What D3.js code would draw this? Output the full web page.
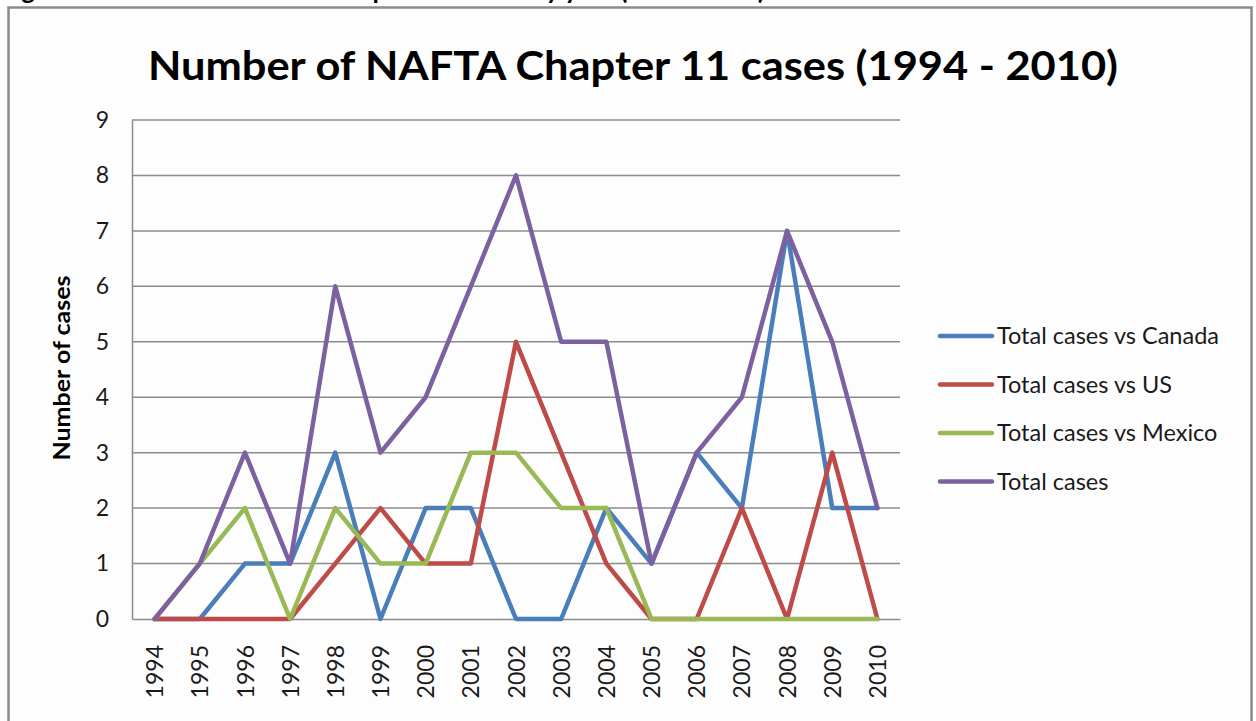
<!DOCTYPE html>
<html>
<head>
<meta charset="utf-8">
<script src="https://cdn.jsdelivr.net/npm/d3@7"></script>
<style>
  body { margin: 0; background: #ffffff; }
  svg { display: block; }
  .tickText { font-family: Lato, "Open Sans", sans-serif; fill: #1a1a1a; }
</style>
</head>
<body>
<svg id="chart" width="1256" height="721"></svg>
<script>
// Data
const years = ["1994","1995","1996","1997","1998","1999","2000","2001","2002","2003","2004","2005","2006","2007","2008","2009","2010"];
const canada = [0,0,1,1,3,0,2,2,0,0,2,1,3,2,7,2,2];
const us     = [0,0,0,0,1,2,1,1,5,3,1,0,0,2,0,3,0];
const mexico = [0,1,2,0,2,1,1,3,3,2,2,0,0,0,0,0,0];
const total  = [0,1,3,1,6,3,4,6,8,5,5,1,3,4,7,5,2];
const seriesNames = ["Total cases vs Canada","Total cases vs US","Total cases vs Mexico","Total cases"];
const seriesColors = ["#4a7ebb","#be4b48","#98b954","#7d60a0"];
const yTicks = [0,1,2,3,4,5,6,7,8,9];

const FONT = "Lato, 'Open Sans', sans-serif";
const PLOT_LEFT = 132, PLOT_RIGHT = 900, PLOT_TOP = 120, PLOT_BOTTOM = 619;

const svg = d3.select('#chart');

// caption from the page above, the crop only leaves its descenders
svg.append('text')
  .attr('x', 0).attr('y', -1)
  .attr('font-family', FONT).attr('font-weight', 'bold').attr('font-size', '26px')
  .attr('fill', '#000')
  .text('Figure 1: Number of NAFTA Chapter 11 cases by year (1994-2010)');

// chart frame
svg.append('rect')
  .attr('x', 8.5).attr('y', 7.5)
  .attr('width', 1243).attr('height', 730)
  .attr('fill', '#fdfdfd')
  .attr('stroke', '#8a8a8a').attr('stroke-width', 2.5);

// title
svg.append('text')
  .attr('x', 633).attr('y', 80)
  .attr('text-anchor', 'middle')
  .attr('font-family', FONT).attr('font-weight', 'bold').attr('font-size', '41px')
  .attr('fill', '#000')
  .attr('textLength', 970).attr('lengthAdjust', 'spacingAndGlyphs')
  .text('Number of NAFTA Chapter 11 cases (1994 - 2010)');

// scales
const xScale = d3.scalePoint().domain(years).range([PLOT_LEFT, PLOT_RIGHT]).padding(0.5);
const yScale = d3.scaleLinear().domain([0, 9]).range([PLOT_BOTTOM, PLOT_TOP]);

// gridlines
svg.append('g')
  .selectAll('line')
  .data(yTicks.filter(d => d > 0))
  .join('line')
  .attr('x1', PLOT_LEFT).attr('x2', PLOT_RIGHT)
  .attr('y1', d => yScale(d)).attr('y2', d => yScale(d))
  .attr('stroke', '#8c8c8c').attr('stroke-width', 1.5);

// y axis
let yAxis = d3.axisLeft(yScale).tickValues(yTicks).tickSize(0).tickPadding(23);
let yG = svg.append('g')
  .attr('transform', `translate(${PLOT_LEFT},0)`)
  .call(yAxis);
yG.select('.domain').attr('stroke', '#8c8c8c').attr('stroke-width', 1.5);
yG.selectAll('text')
  .attr('class', 'tickText')
  .style('font-size', '23px');

// x axis
let xAxis = d3.axisBottom(xScale).tickSize(0).tickSizeOuter(0);
let xG = svg.append('g')
  .attr('transform', `translate(0,${PLOT_BOTTOM})`)
  .call(xAxis);
xG.select('.domain').attr('stroke', '#8c8c8c').attr('stroke-width', 1.5);
xG.selectAll('text')
  .attr('class', 'tickText')
  .style('font-size', '23px')
  .style('text-anchor', 'end')
  .attr('dy', '0.35em')
  .attr('transform', 'translate(0,26) rotate(-90)')
  .attr('x', 0).attr('y', 0);

// y axis label
svg.append('text')
  .attr('transform', 'translate(62,368) rotate(-90)')
  .attr('text-anchor', 'middle')
  .attr('dy', '0.35em')
  .attr('font-family', FONT).attr('font-weight', 'bold').attr('font-size', '23px')
  .attr('fill', '#000')
  .attr('textLength', 185).attr('lengthAdjust', 'spacingAndGlyphs')
  .text('Number of cases');

// lines
const allSeries = [canada, us, mexico, total];
const lineGenerator = d3.line()
  .x((d, i) => xScale(years[i]))
  .y(d => yScale(d));

svg.append('g')
  .selectAll('path')
  .data(allSeries)
  .join('path')
  .attr('d', d => lineGenerator(d))
  .attr('fill', 'none')
  .attr('stroke', (d, i) => seriesColors[i])
  .attr('stroke-width', 4.5)
  .attr('stroke-linejoin', 'round')
  .attr('stroke-linecap', 'round');

// legend
let legend = svg.append('g').attr('transform', 'translate(940,336)');
seriesNames.forEach((name, i) => {
  let row = legend.append('g').attr('transform', `translate(0,${i * 48.5})`);
  row.append('line')
    .attr('x1', 0).attr('x2', 52)
    .attr('stroke', seriesColors[i]).attr('stroke-width', 4.5)
    .attr('stroke-linecap', 'round');
  row.append('text')
    .attr('x', 57).attr('dy', '0.35em')
    .attr('font-family', FONT).attr('font-size', '23.5px')
    .attr('fill', '#1a1a1a')
    .text(name);
});
</script>
</body>
</html>
